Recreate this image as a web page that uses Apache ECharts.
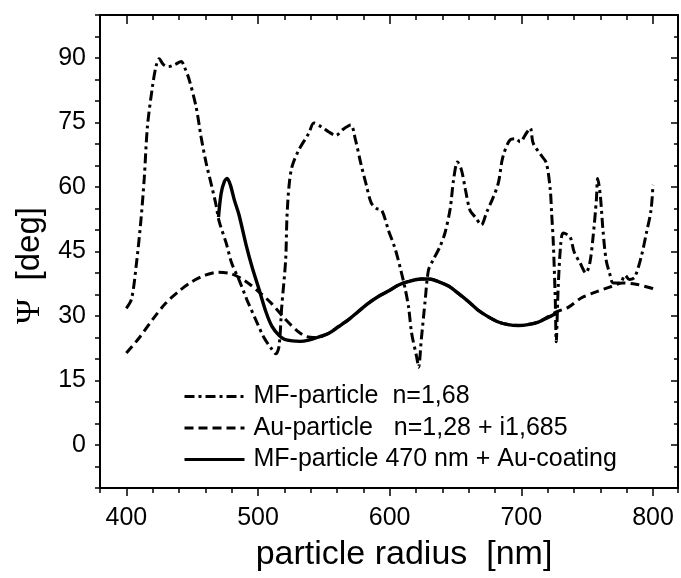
<!DOCTYPE html>
<html>
<head>
<meta charset="utf-8">
<script src="https://cdn.jsdelivr.net/npm/echarts@6/dist/echarts.min.js"></script>
<style>
html,body{margin:0;padding:0;background:#fff;}
#chart{width:681px;height:578px;}
</style>
</head>
<body>
<div id="chart"></div>
<script>
// ---- data ----
const seriesNames = ['MF-particle  n=1,68', 'Au-particle   n=1,28 + i1,685', 'MF-particle 470 nm + Au-coating'];

const mfX = [400,404,407.6,411,413.6,416,419.7,422.5,425,428,432,437,441.7,444,447.7,453,456.8,460.6,465,468,470.5,475.8,480,485.6,491.7,498.5,504.5,510,513.6,516,518,521,522,523.5,525.8,531,538.6,542.4,548,553.8,559,565,570.5,574,578,581.8,586,590,594,599,604.5,609,612,614.4,616.7,620.5,622,624,627,629.5,633,638,642,646,648.5,651.5,654.5,657.6,661,665,669.7,673.5,678.8,682.6,686,691.7,696,699,703.8,706.8,709,715,719,722,723,724.2,725.8,726.5,728,730,731.8,737,740,744.7,749,752,754.5,757,758,760,762,764.4,767,769.7,775,778.8,782,786,791,795,798.5,800];
const mfY = [31.8,34,42,52,62,74,83,88,89.8,88.5,88,88.5,89.2,88,85,78.6,71.6,65.6,60,56,52,47,42.3,38.4,33.7,29,25,22.5,21.2,23,32,43,53,60,64.7,68.6,72.5,74.9,74,72.8,72,73.5,74.4,71,65.6,61,56.3,55,54.6,50,45.3,40,36,32,26,20.5,18.1,24.4,33.7,40.7,43,46,49.3,55,61.6,65.8,64,59.3,54.6,53,51.2,54,57.7,61,67,71,71.2,70.5,72.5,73.7,70.2,67.4,65.6,59.3,54,47.7,33.7,24,36.7,47,49.3,48.4,45,42.3,40,42.3,48.4,57,62,58,50,43,40,37.7,37.7,39.5,38.5,39,43.7,49.3,54.6,60.5];

const auX = [400,410,420,430,440,450,460,470,480,490,500,510,520,530,537,545,553.8,561,569,576,584,591.7,599,606.8,614,624,630,637,645,652,660,667,675,682.6,690,697.7,705,712.9,720,727,735.6,745.5,756.8,767,777,787,798.5,800];
const auY = [21.4,25,29.2,33,35.8,38,39.5,40.2,39.8,38.2,35.8,33,29.5,26.5,25.2,25,26,27.5,29.2,31,33,34.6,35.8,37.2,38,38.6,38.6,38,36.9,35.3,33.3,31.4,29.8,28.6,28,27.8,28,28.6,29.8,31,32,34.2,35.6,36.7,37.7,37.4,36.5,36.3];

const coatX = [470,472,474.5,476.5,479,482,485.6,491,495.5,500.8,506,510.6,516,520,526,532,538.6,545,553.8,561,569,576,584,591.7,599,606.8,614,624,630,637,645,652,660,667,675,682.6,690,697.7,705,712.9,720,726];
const coatY = [53,58.5,61.3,62,60.5,57,53.5,46.5,41.4,36.2,31,27.6,25.5,24.6,24.2,24.1,24.4,25,26,27.5,29.2,31,33,34.6,35.8,37.2,38,38.6,38.6,38,36.9,35.3,33.3,31.4,29.8,28.6,28,27.8,28,28.6,29.6,30.6];

const xMajorTicks = [400,500,600,700,800];
const yMajorTicks = [0,15,30,45,60,75,90];
const xTitle = 'particle radius  [nm]';
const yTitleSymbol = 'Ψ';
const yTitleUnit = '  [deg]';

// ---- chart ----
const pair = (xs, ys) => xs.map((x, i) => [x, ys[i]]);
const FONT = '"Liberation Sans", Arial, Helvetica, sans-serif';
const chart = echarts.init(document.getElementById('chart'), null, {renderer: 'canvas'});

const xBase = {type: 'value', min: 380, max: 819, interval: 20, splitLine: {show: false}};
const yBase = {type: 'value', min: -10, max: 100, interval: 5, splitLine: {show: false}};
const lineBlack = {show: true, onZero: false, lineStyle: {color: '#000', width: 2}};
const noLine = {show: false, onZero: false};

chart.setOption({
  animation: false,
  backgroundColor: '#fff',
  grid: {left: 100, right: 1, top: 15, bottom: 90, containLabel: false},
  xAxis: [
    Object.assign({}, xBase, {
      position: 'bottom',
      axisLine: lineBlack,
      axisTick: {show: true, inside: false, length: 5, lineStyle: {color: '#000', width: 1.5}},
      axisLabel: {
        color: '#000', fontSize: 25, fontFamily: FONT, margin: 18,
        formatter: v => (xMajorTicks.indexOf(v) >= 0 ? String(v) : '')
      },
      name: xTitle, nameLocation: 'middle', nameGap: 50,
      nameTextStyle: {color: '#000', fontSize: 34, fontFamily: FONT, padding: [0, 0, 0, 30]}
    }),
    Object.assign({}, xBase, {
      position: 'bottom',
      axisLine: noLine,
      axisTick: {show: true, inside: false, length: 8, customValues: xMajorTicks, lineStyle: {color: '#000', width: 1.5}},
      axisLabel: {show: false}
    }),
    Object.assign({}, xBase, {
      position: 'top',
      axisLine: lineBlack,
      axisTick: {show: true, inside: true, length: 5, lineStyle: {color: '#000', width: 1.5}},
      axisLabel: {show: false}
    }),
    Object.assign({}, xBase, {
      position: 'top',
      axisLine: noLine,
      axisTick: {show: true, inside: true, length: 9, customValues: xMajorTicks, lineStyle: {color: '#000', width: 1.5}},
      axisLabel: {show: false}
    })
  ],
  yAxis: [
    Object.assign({}, yBase, {
      position: 'left',
      axisLine: lineBlack,
      axisTick: {show: true, inside: false, length: 5, lineStyle: {color: '#000', width: 1.5}},
      axisLabel: {
        color: '#000', fontSize: 25, fontFamily: FONT, margin: 14,
        formatter: v => (yMajorTicks.indexOf(v) >= 0 ? String(v) : '')
      },
      name: '{p|' + yTitleSymbol + '}{u|' + yTitleUnit + '}',
      nameLocation: 'middle', nameGap: 52, nameRotate: 90,
      nameTextStyle: {
        color: '#000', padding: [0, 28, 0, 0],
        rich: {
          p: {fontFamily: '"Liberation Serif", "DejaVu Serif", serif', fontSize: 34, color: '#000'},
          u: {fontFamily: FONT, fontSize: 33, color: '#000'}
        }
      }
    }),
    Object.assign({}, yBase, {
      position: 'right',
      axisLine: lineBlack,
      axisTick: {show: true, inside: true, length: 4, lineStyle: {color: '#000', width: 1.5}},
      axisLabel: {show: false}
    }),
    Object.assign({}, yBase, {
      position: 'right',
      axisLine: noLine,
      axisTick: {show: true, inside: true, length: 7, customValues: yMajorTicks, lineStyle: {color: '#000', width: 1.5}},
      axisLabel: {show: false}
    })
  ],
  legend: {
    orient: 'vertical', left: 183, top: 384, padding: 0,
    itemWidth: 60, itemHeight: 14, itemGap: 6.5,
    itemStyle: {opacity: 0, color: 'rgba(0,0,0,0)', borderWidth: 0},
    lineStyle: {width: 3},
    textStyle: {color: '#000', fontSize: 25, fontFamily: FONT, lineHeight: 25, padding: [0, 0, 0, 4]},
    data: seriesNames
  },
  series: [
    {
      name: seriesNames[0], type: 'line', xAxisIndex: 0, yAxisIndex: 0,
      data: pair(mfX, mfY), showSymbol: false, symbol: 'none', smooth: 0.3,
      lineStyle: {color: '#000', width: 3, type: [10, 4, 3, 4]}, itemStyle: {color: '#000'}, z: 3
    },
    {
      name: seriesNames[1], type: 'line', xAxisIndex: 0, yAxisIndex: 0,
      data: pair(auX, auY), showSymbol: false, symbol: 'none', smooth: 0.3,
      lineStyle: {color: '#000', width: 3, type: [9, 5]}, itemStyle: {color: '#000'}, z: 4
    },
    {
      name: seriesNames[2], type: 'line', xAxisIndex: 0, yAxisIndex: 0,
      data: pair(coatX, coatY), showSymbol: false, symbol: 'none', smooth: 0.3,
      lineStyle: {color: '#000', width: 3.4, type: 'solid'}, itemStyle: {color: '#000'}, z: 5
    }
  ]
});
</script>
</body>
</html>
